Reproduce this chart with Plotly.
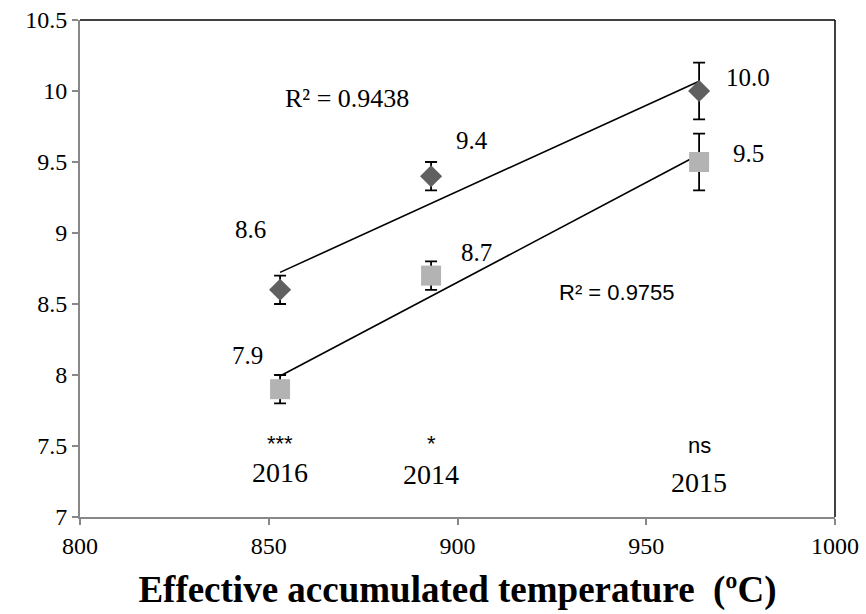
import numpy as np
import plotly.graph_objects as go

# ---- data ----
temps = [853, 893, 964]
years = ["2016", "2014", "2015"]
signif = ["***", "*", "ns"]
series_a = [8.6, 9.4, 10.0]      # diamonds
err_a = [0.1, 0.1, 0.2]
series_b = [7.9, 8.7, 9.5]       # squares
err_b = [0.1, 0.1, 0.2]
r2_a = "R² = 0.9438"
r2_b = "R² = 0.9755"
x_ticks = [800, 850, 900, 950, 1000]
y_ticks = [7, 7.5, 8, 8.5, 9, 9.5, 10, 10.5]
y_ticklabels = ["7", "7.5", "8", "8.5", "9", "9.5", "10", "10.5"]

SERIF = "Times New Roman, Liberation Serif, serif"
SANS = "Liberation Sans, Arial, sans-serif"

fig = go.Figure()

def trend(xs, ys):
    k, b = np.polyfit(xs, ys, 1)
    xx = np.array([min(xs), max(xs)])
    return xx, k * xx + b

for ys in (series_a, series_b):
    tx, ty = trend(temps, ys)
    fig.add_trace(go.Scatter(x=tx, y=ty, mode="lines",
                             line=dict(color="black", width=1.6),
                             showlegend=False, hoverinfo="skip"))

fig.add_trace(go.Scatter(
    x=temps, y=series_a, mode="markers",
    marker=dict(symbol="diamond", size=17, color="#606060"),
    error_y=dict(type="data", array=err_a, color="black", thickness=1.8, width=6),
    showlegend=False))
fig.add_trace(go.Scatter(
    x=temps, y=series_b, mode="markers",
    marker=dict(symbol="square", size=20, color="#b3b3b3"),
    error_y=dict(type="data", array=err_b, color="black", thickness=1.8, width=6),
    showlegend=False))

ann = []
# value labels (offsets in pixels)
offs_a = [(-30, 60), (41, 36), (49, 14)]
offs_b = [(-33, 34), (45, 23), (49, 9)]
for xs, ys, offs in ((temps, series_a, offs_a), (temps, series_b, offs_b)):
    for x, y, (dx, dy) in zip(xs, ys, offs):
        ann.append(dict(x=x, y=y, text=f"{y:.1f}", showarrow=False,
                        xshift=dx, yshift=dy,
                        font=dict(family=SERIF, size=25, color="black")))

# R² labels
ann.append(dict(x=870.8, y=9.945, text=r2_a, showarrow=False,
                font=dict(family=SERIF, size=26, color="black")))
ann.append(dict(x=942.3, y=8.578, text=r2_b, showarrow=False,
                font=dict(family=SANS, size=22, color="black")))

# significance and year labels
sig_y = [7.52, 7.52, 7.507]
year_y = [7.31, 7.296, 7.246]
for x, s, sy, yr, yy in zip(temps, signif, sig_y, years, year_y):
    ann.append(dict(x=x, y=sy, text=s, showarrow=False,
                    font=dict(family=SANS, size=22, color="black")))
    ann.append(dict(x=x, y=yy, text=yr, showarrow=False,
                    font=dict(family=SERIF, size=28, color="black")))

fig.update_layout(
    width=866, height=614,
    margin=dict(l=80, r=31, t=20, b=97),
    paper_bgcolor="white", plot_bgcolor="white",
    annotations=ann,
    shapes=[
        dict(type="line", xref="paper", yref="paper", x0=0, x1=1, y0=1, y1=1,
             line=dict(color="black", width=1.5)),
        dict(type="line", xref="paper", yref="paper", x0=1, x1=1, y0=0, y1=1,
             line=dict(color="black", width=1.5)),
    ],
    xaxis=dict(range=[800, 1000], tickvals=x_ticks, automargin=False,
               showgrid=False, zeroline=False,
               showline=True, linecolor="#888888", linewidth=2,
               ticks="outside", tickcolor="#888888", ticklen=6, tickwidth=1.5,
               tickfont=dict(family=SERIF, size=24, color="black"),
               title=dict(text="<b>Effective accumulated temperature  (ºC)</b>",
                          font=dict(family=SERIF, size=37, color="black"),
                          standoff=18)),
    yaxis=dict(range=[7, 10.5], tickvals=y_ticks, ticktext=y_ticklabels,
               automargin=False,
               showgrid=False, zeroline=False,
               showline=True, linecolor="#888888", linewidth=2,
               ticks="outside", tickcolor="#888888", ticklen=6, tickwidth=1.5,
               tickfont=dict(family=SERIF, size=24, color="black")),
)

fig.write_html("out.html", config={"displayModeBar": False},
               post_script="document.body.style.margin='0';document.body.style.overflow='hidden';")
